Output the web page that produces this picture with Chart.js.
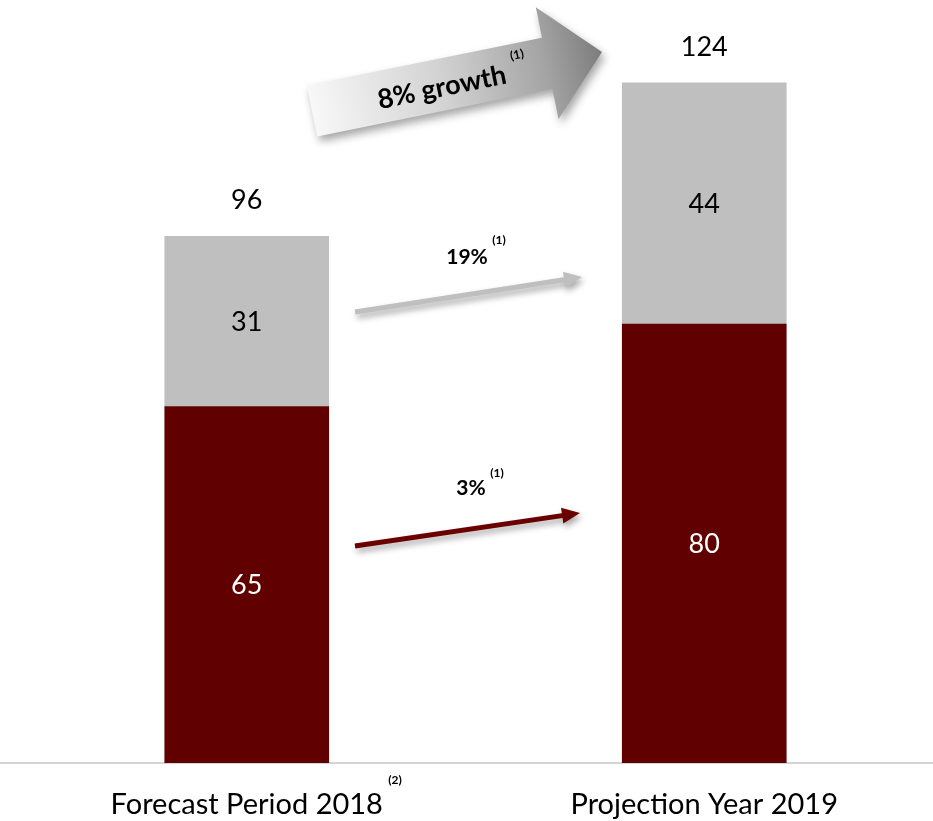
<!DOCTYPE html>
<html>
<head>
<meta charset="utf-8">
<script src="https://cdn.jsdelivr.net/npm/chart.js@4/dist/chart.umd.min.js"></script>
<style>
  html, body { margin: 0; padding: 0; background: #ffffff; }
  #wrap { width: 933px; height: 821px; }
</style>
</head>
<body>
<div id="wrap"><canvas id="c" width="933" height="821"></canvas></div>
<script>
// ---- data ----
const categories = ['Forecast Period 2018', 'Projection Year 2019'];
const categoryNotes = ['(2)', ''];
const baseValues = [65, 80];      // dark red segment
const topValues = [31, 44];       // grey segment
const totals = [96, 124];
const totalGrowth = { label: '8% growth', note: '(1)' };
const topGrowth = { label: '19%', note: '(1)' };
const baseGrowth = { label: '3%', note: '(1)' };

const DARK = '#600000';
const GREY = '#BFBFBF';
const FONT = 'Lato, "Open Sans", sans-serif';

function arrowLine(ctx, x1, y1, x2, y2, color, width, headLen, headHalf) {
  const a = Math.atan2(y2 - y1, x2 - x1);
  const len = Math.hypot(x2 - x1, y2 - y1);
  ctx.save();
  ctx.translate(x1, y1);
  ctx.rotate(a);
  ctx.shadowColor = 'rgba(0,0,0,0.35)';
  ctx.shadowBlur = 6;
  ctx.shadowOffsetX = 2;
  ctx.shadowOffsetY = 4;
  ctx.fillStyle = color;
  ctx.beginPath();
  ctx.moveTo(0, -width / 2);
  ctx.lineTo(len - headLen, -width / 2);
  ctx.lineTo(len - headLen, -headHalf);
  ctx.lineTo(len, 0);
  ctx.lineTo(len - headLen, headHalf);
  ctx.lineTo(len - headLen, width / 2);
  ctx.lineTo(0, width / 2);
  ctx.closePath();
  ctx.fill();
  ctx.restore();
}

function labelWithNote(ctx, text, note, cx, cy, size, nx, ny) {
  ctx.save();
  ctx.fillStyle = '#000';
  ctx.textAlign = 'center';
  ctx.textBaseline = 'middle';
  ctx.font = 'bold ' + size + 'px ' + FONT;
  ctx.fillText(text, cx, cy);
  ctx.font = 'bold 12px ' + FONT;
  ctx.fillText(note, nx, ny);
  ctx.restore();
}

const decor = {
  id: 'decor',
  beforeDatasetsDraw(chart) {
    const ctx = chart.ctx;
    const y0 = chart.scales.y.getPixelForValue(0);
    ctx.save();
    ctx.strokeStyle = '#d4d4d4';
    ctx.lineWidth = 2;
    ctx.beginPath();
    ctx.moveTo(0, y0);
    ctx.lineTo(chart.width, y0);
    ctx.stroke();
    ctx.restore();
  },
  afterDatasetsDraw(chart) {
    const ctx = chart.ctx;
    const m0 = chart.getDatasetMeta(0).data;
    const m1 = chart.getDatasetMeta(1).data;
    ctx.save();
    ctx.textAlign = 'center';
    ctx.textBaseline = 'middle';
    ctx.font = '27px ' + FONT;
    m0.forEach((el, i) => {
      ctx.fillStyle = '#ffffff';
      ctx.fillText(String(baseValues[i]), el.x, (el.y + el.base) / 2 + 1);
    });
    m1.forEach((el, i) => {
      ctx.fillStyle = '#000000';
      ctx.fillText(String(topValues[i]), el.x, (el.y + el.base) / 2 + 1);
      ctx.fillText(String(totals[i]), el.x, el.y - 36);
    });
    // category notes
    const xs = chart.scales.x;
    ctx.fillStyle = '#000';
    categories.forEach((c, i) => {
      if (!categoryNotes[i]) return;
      ctx.font = '29px ' + FONT;
      const tw = ctx.measureText(c).width;
      ctx.font = 'bold 12px ' + FONT;
      ctx.fillText(categoryNotes[i], xs.getPixelForValue(i) + tw / 2 + 12, 780);
    });
    ctx.restore();

    // segment arrows
    arrowLine(ctx, 355, 312, 582, 277, GREY, 5, 18, 8);
    labelWithNote(ctx, topGrowth.label, topGrowth.note, 467, 257, 21, 499, 240);
    arrowLine(ctx, 355, 546, 580, 513, '#6a0000', 5, 18, 8);
    labelWithNote(ctx, baseGrowth.label, baseGrowth.note, 471, 488, 21, 497, 473);

    // big growth arrow
    const sx = 312, sy = 111, tx = 602, ty = 52;
    const a = Math.atan2(ty - sy, tx - sx);
    const L = Math.hypot(tx - sx, ty - sy);
    const hs = 240, sh = 26, hh = 57;
    ctx.save();
    ctx.translate(sx, sy);
    ctx.rotate(a);
    const g = ctx.createLinearGradient(0, 0, L, 0);
    g.addColorStop(0, '#f8f8f8');
    g.addColorStop(0.45, '#d2d2d2');
    g.addColorStop(0.8, '#a4a4a4');
    g.addColorStop(1, '#7c7c7c');
    ctx.shadowColor = 'rgba(0,0,0,0.35)';
    ctx.shadowBlur = 8;
    ctx.shadowOffsetX = 3;
    ctx.shadowOffsetY = 5;
    ctx.fillStyle = g;
    ctx.beginPath();
    ctx.moveTo(0, -sh);
    ctx.lineTo(hs, -sh);
    ctx.lineTo(hs, -hh);
    ctx.lineTo(L, 0);
    ctx.lineTo(hs, hh);
    ctx.lineTo(hs, sh);
    ctx.lineTo(0, sh);
    ctx.closePath();
    ctx.fill();
    ctx.shadowColor = 'transparent';
    ctx.fillStyle = '#000';
    ctx.textAlign = 'center';
    ctx.textBaseline = 'middle';
    ctx.font = 'bold 27px ' + FONT;
    ctx.fillText(totalGrowth.label, 132, 3);
    ctx.font = 'bold 12px ' + FONT;
    ctx.fillText(totalGrowth.note, 212, -14);
    ctx.restore();
  }
};

new Chart(document.getElementById('c'), {
  type: 'bar',
  data: {
    labels: categories,
    datasets: [
      { data: baseValues, backgroundColor: DARK, barThickness: 164 },
      { data: topValues, backgroundColor: GREY, barThickness: 164 }
    ]
  },
  options: {
    responsive: false,
    animation: false,
    devicePixelRatio: 1,
    layout: { padding: { left: 18, right: 0, top: 17, bottom: 0 } },
    plugins: { legend: { display: false }, tooltip: { enabled: false } },
    scales: {
      x: {
        stacked: true,
        grid: { display: false, drawTicks: false },
        border: { display: false },
        ticks: { color: '#000', font: { family: FONT, size: 29 }, padding: 24, maxRotation: 0, autoSkip: false },
        afterFit(scale) { scale.height = 58; }
      },
      y: { stacked: true, display: false, min: 0, max: 136 }
    }
  },
  plugins: [decor]
});
</script>
</body>
</html>
